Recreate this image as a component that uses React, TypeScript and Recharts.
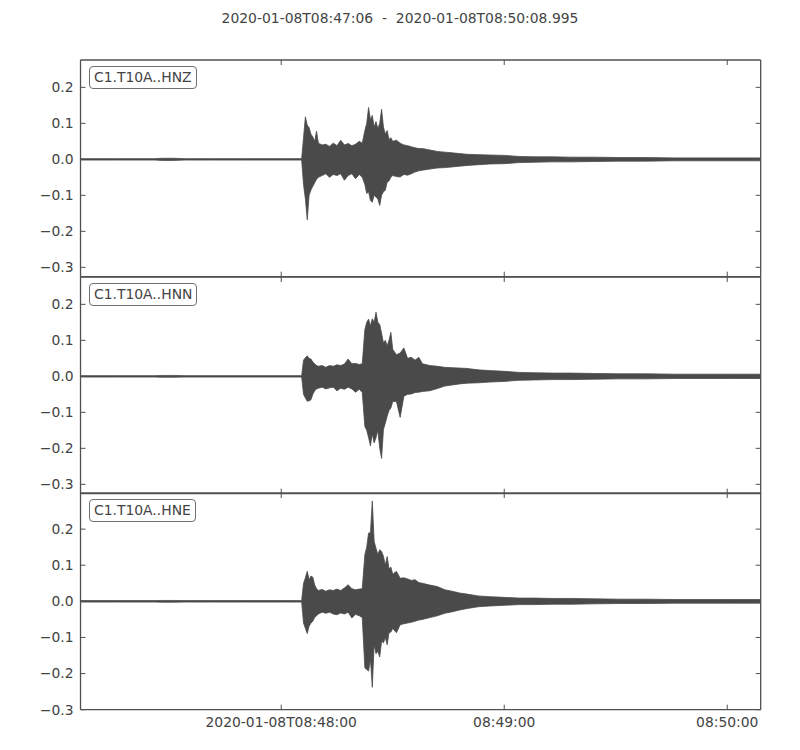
import React from "react";
import { ComposedChart, Area, Line, XAxis, YAxis } from "recharts";

// seconds after 2020-01-08T08:47:06
const times = [
    0, 10, 20, 22, 25, 28, 35, 45, 55, 59.5,
    60, 60.5, 61, 61.5, 62, 62.5, 63, 63.5,
    64, 65, 66, 67, 68, 69, 70, 71, 72, 73, 74, 75,
    75.8,
    76.5, 77, 77.5, 78, 78.5, 79, 79.5, 80, 80.5, 81, 81.5, 82, 82.5, 83, 83.5, 84,
    85, 86, 87, 88, 89, 90, 91, 92,
    94, 96, 98, 100, 102, 104,
    107, 110, 114, 118, 122, 127, 132, 138, 145, 152, 160, 168, 176, 182.99,
];

// max / min of each channel per time bin
const hnzHi = [
    0.002, 0.002, 0.002, 0.003, 0.003, 0.002, 0.002, 0.002, 0.002, 0.002,
    0.06, 0.118, 0.095, 0.088, 0.07, 0.062, 0.05, 0.078,
    0.045, 0.04, 0.042, 0.036, 0.045, 0.038, 0.053, 0.04, 0.044, 0.038, 0.042, 0.05,
    0.045,
    0.08, 0.1, 0.144, 0.11, 0.122, 0.09, 0.105, 0.085, 0.1, 0.139, 0.09, 0.07, 0.08, 0.055, 0.06, 0.05,
    0.053, 0.045, 0.04, 0.038, 0.035, 0.032, 0.03, 0.03,
    0.026, 0.022, 0.02, 0.018, 0.016, 0.014,
    0.013, 0.012, 0.011, 0.008, 0.007, 0.007, 0.006, 0.006, 0.005, 0.005, 0.004, 0.004, 0.004, 0.004,
];
const hnzLo = [
    -0.002, -0.002, -0.002, -0.003, -0.003, -0.002, -0.002, -0.002, -0.002, -0.002,
    -0.07, -0.11, -0.168, -0.1, -0.085, -0.075, -0.065, -0.055,
    -0.05, -0.045, -0.04, -0.05, -0.042, -0.045, -0.04, -0.058, -0.045, -0.04, -0.054, -0.042,
    -0.05,
    -0.07, -0.095, -0.09, -0.114, -0.119, -0.1, -0.105, -0.11, -0.128, -0.1, -0.09, -0.086, -0.063, -0.06, -0.05, -0.045,
    -0.048, -0.049, -0.042, -0.044, -0.04, -0.035, -0.032, -0.03,
    -0.027, -0.024, -0.023, -0.021, -0.019, -0.017,
    -0.015, -0.013, -0.012, -0.009, -0.008, -0.007, -0.007, -0.006, -0.005, -0.005, -0.004, -0.004, -0.004, -0.004,
];

const hnnHi = [
    0.002, 0.002, 0.002, 0.0025, 0.0025, 0.002, 0.002, 0.002, 0.002, 0.002,
    0.045, 0.052, 0.057, 0.05, 0.048, 0.04, 0.035, 0.03,
    0.028, 0.03, 0.025, 0.03, 0.028, 0.032, 0.03, 0.034, 0.048, 0.035, 0.036, 0.033,
    0.035,
    0.13, 0.15, 0.159, 0.14, 0.16, 0.15, 0.178, 0.15, 0.144, 0.12, 0.093, 0.1, 0.085, 0.1, 0.122, 0.075,
    0.06, 0.065, 0.079, 0.05, 0.053, 0.045, 0.053, 0.035,
    0.03, 0.028, 0.025, 0.024, 0.023, 0.022,
    0.018, 0.016, 0.014, 0.011, 0.01, 0.009, 0.009, 0.008, 0.007, 0.007, 0.006, 0.006, 0.006, 0.006,
];
const hnnLo = [
    -0.002, -0.002, -0.002, -0.0025, -0.0025, -0.002, -0.002, -0.002, -0.002, -0.002,
    -0.05, -0.06, -0.069, -0.068, -0.065, -0.05, -0.04, -0.035,
    -0.033, -0.03, -0.035, -0.032, -0.03, -0.04, -0.033, -0.036, -0.03, -0.035, -0.044, -0.036,
    -0.045,
    -0.139, -0.15, -0.17, -0.193, -0.16, -0.185, -0.17, -0.15, -0.2, -0.228, -0.148, -0.13, -0.111, -0.095, -0.088, -0.07,
    -0.07, -0.114, -0.055, -0.05, -0.049, -0.045, -0.044, -0.042,
    -0.04, -0.034, -0.027, -0.024, -0.021, -0.019,
    -0.018, -0.016, -0.014, -0.011, -0.01, -0.009, -0.009, -0.008, -0.007, -0.007, -0.006, -0.006, -0.006, -0.006,
];

const hneHi = [
    0.002, 0.002, 0.002, 0.0025, 0.0025, 0.002, 0.002, 0.002, 0.002, 0.002,
    0.05, 0.065, 0.083, 0.06, 0.07, 0.067, 0.045, 0.035,
    0.03, 0.033, 0.028, 0.032, 0.03, 0.034, 0.03, 0.037, 0.046, 0.035, 0.032, 0.034,
    0.035,
    0.129, 0.15, 0.189, 0.19, 0.278, 0.166, 0.147, 0.13, 0.143, 0.138, 0.125, 0.1, 0.124, 0.09, 0.095, 0.075,
    0.083, 0.064, 0.065, 0.062, 0.058, 0.06, 0.052, 0.05,
    0.045, 0.041, 0.032, 0.028, 0.023, 0.02,
    0.015, 0.013, 0.011, 0.009, 0.009, 0.008, 0.008, 0.007, 0.006, 0.006, 0.005, 0.005, 0.005, 0.005,
];
const hneLo = [
    -0.002, -0.002, -0.002, -0.0025, -0.0025, -0.002, -0.002, -0.002, -0.002, -0.002,
    -0.06, -0.075, -0.089, -0.069, -0.06, -0.055, -0.045, -0.04,
    -0.035, -0.03, -0.033, -0.03, -0.035, -0.037, -0.032, -0.035, -0.03, -0.046, -0.036, -0.04,
    -0.045,
    -0.184, -0.189, -0.193, -0.16, -0.238, -0.12, -0.145, -0.138, -0.154, -0.11, -0.115, -0.1, -0.12, -0.087, -0.085, -0.075,
    -0.087, -0.065, -0.062, -0.06, -0.058, -0.055, -0.052, -0.05,
    -0.045, -0.04, -0.033, -0.029, -0.024, -0.02,
    -0.015, -0.013, -0.011, -0.009, -0.009, -0.008, -0.008, -0.007, -0.006, -0.006, -0.005, -0.005, -0.005, -0.005,
];

const channels = ["C1.T10A..HNZ", "C1.T10A..HNN", "C1.T10A..HNE"];
const yDomains: [number, number][] = [
    [-0.326, 0.276],
    [-0.326, 0.276],
    [-0.3, 0.3],
];
const yTicks = [-0.3, -0.2, -0.1, 0, 0.1, 0.2];
const xTicks = [54, 114, 174];
const xTickLabels = ["2020-01-08T08:48:00", "08:49:00", "08:50:00"];
const title = "2020-01-08T08:47:06  -  2020-01-08T08:50:08.995";

const rows = times.map((t, i) => ({
    t,
    HNZ: [hnzLo[i], hnzHi[i]],
    HNN: [hnnLo[i], hnnHi[i]],
    HNE: [hneLo[i], hneHi[i]],
}));
const seriesKeys = ["HNZ", "HNN", "HNE"];

const AXIS = "#505050";
const TEXT = "#444444";
const TRACE = "#4a4a4a";
const FONT = 13.9;
const TICK = 5;

const PLOT_LEFT = 80.5;
const PLOT_RIGHT = 760.7;
const PLOT_TOP = 60;
const PLOT_H = 216.7;

const fmtY = (v: number) => v.toFixed(1).replace("-", "\u2212");

const LeftTick = ({ x, y, payload }: any) => (
    <g>
        <line x1={x} x2={x + TICK} y1={y} y2={y} stroke={AXIS} />
        <text x={x - 7} y={y} dy="0.35em" textAnchor="end" fill={TEXT} fontSize={FONT}>
            {fmtY(payload.value)}
        </text>
    </g>
);

const RightTick = ({ x, y }: any) => (
    <line x1={x - TICK} x2={x} y1={y} y2={y} stroke={AXIS} />
);

const TopTick = ({ x, y }: any) => (
    <line x1={x} x2={x} y1={y} y2={y + TICK} stroke={AXIS} />
);

const makeBottomTick =
    (showLabels: boolean) =>
    ({ x, y, payload }: any) => (
        <g>
            <line x1={x} x2={x} y1={y} y2={y - TICK} stroke={AXIS} />
            {showLabels && (
                <text x={x} y={y + 17} textAnchor="middle" fill={TEXT} fontSize={FONT}>
                    {xTickLabels[xTicks.indexOf(payload.value)]}
                </text>
            )}
        </g>
    );

function Panel({ index }: { index: number }) {
    const key = seriesKeys[index];
    const top = PLOT_TOP + index * PLOT_H;
    const isLast = index === channels.length - 1;
    return (
        <>
            <div style={{ position: "absolute", left: 0, top: top - 10 }}>
                <ComposedChart
                    width={800}
                    height={PLOT_H + 10 + 30}
                    data={rows}
                    margin={{ top: 0, right: 0, bottom: 0, left: 0 }}
                >
                    <XAxis
                        dataKey="t"
                        type="number"
                        domain={[0, 182.995]}
                        ticks={xTicks}
                        interval={0}
                        height={30}
                        tickSize={0}
                        tickMargin={0}
                        tickLine={false}
                        axisLine={{ stroke: AXIS, strokeWidth: 1.3 }}
                        tick={makeBottomTick(isLast)}
                        allowDataOverflow
                    />
                    <XAxis
                        xAxisId="top"
                        orientation="top"
                        dataKey="t"
                        type="number"
                        domain={[0, 182.995]}
                        ticks={xTicks}
                        interval={0}
                        height={10}
                        tickSize={0}
                        tickMargin={0}
                        tickLine={false}
                        axisLine={{ stroke: AXIS, strokeWidth: 1.3 }}
                        tick={TopTick}
                        allowDataOverflow
                    />
                    <YAxis
                        type="number"
                        domain={yDomains[index]}
                        ticks={yTicks}
                        interval={0}
                        width={PLOT_LEFT}
                        tickSize={0}
                        tickMargin={0}
                        tickLine={false}
                        axisLine={{ stroke: AXIS, strokeWidth: 1.3 }}
                        tick={LeftTick}
                        allowDataOverflow
                    />
                    <YAxis
                        yAxisId="right"
                        orientation="right"
                        type="number"
                        domain={yDomains[index]}
                        ticks={yTicks}
                        interval={0}
                        width={800 - PLOT_RIGHT}
                        tickSize={0}
                        tickMargin={0}
                        tickLine={false}
                        axisLine={{ stroke: AXIS, strokeWidth: 1.3 }}
                        tick={RightTick}
                        allowDataOverflow
                    />
                    <Area
                        type="linear"
                        dataKey={key}
                        stroke={TRACE}
                        strokeWidth={0.8}
                        fill={TRACE}
                        fillOpacity={1}
                        dot={false}
                        activeDot={false}
                        isAnimationActive={false}
                    />
                    <Line
                        xAxisId="top"
                        yAxisId="right"
                        dataKey={(d: any) => d[key][1]}
                        stroke="none"
                        dot={false}
                        activeDot={false}
                        isAnimationActive={false}
                    />
                </ComposedChart>
            </div>
            <div
                style={{
                    position: "absolute",
                    left: 89,
                    top: top + 6,
                    height: 21,
                    lineHeight: "21px",
                    padding: "0 4px",
                    border: "1.3px solid #707070",
                    borderRadius: 4,
                    background: "#fff",
                    color: TEXT,
                    fontSize: FONT,
                    whiteSpace: "nowrap",
                }}
            >
                {channels[index]}
            </div>
        </>
    );
}

export default function App() {
    return (
        <div
            style={{
                position: "absolute",
                left: 0,
                top: 0,
                width: 800,
                height: 750,
                background: "#fff",
                fontFamily: "'DejaVu Sans', sans-serif",
            }}
        >
            <div
                style={{
                    position: "absolute",
                    left: 0,
                    width: 800,
                    top: 10,
                    textAlign: "center",
                    fontSize: FONT,
                    color: TEXT,
                    whiteSpace: "pre",
                }}
            >
                {title}
            </div>
            {channels.map((_, i) => (
                <Panel key={i} index={i} />
            ))}
        </div>
    );
}
